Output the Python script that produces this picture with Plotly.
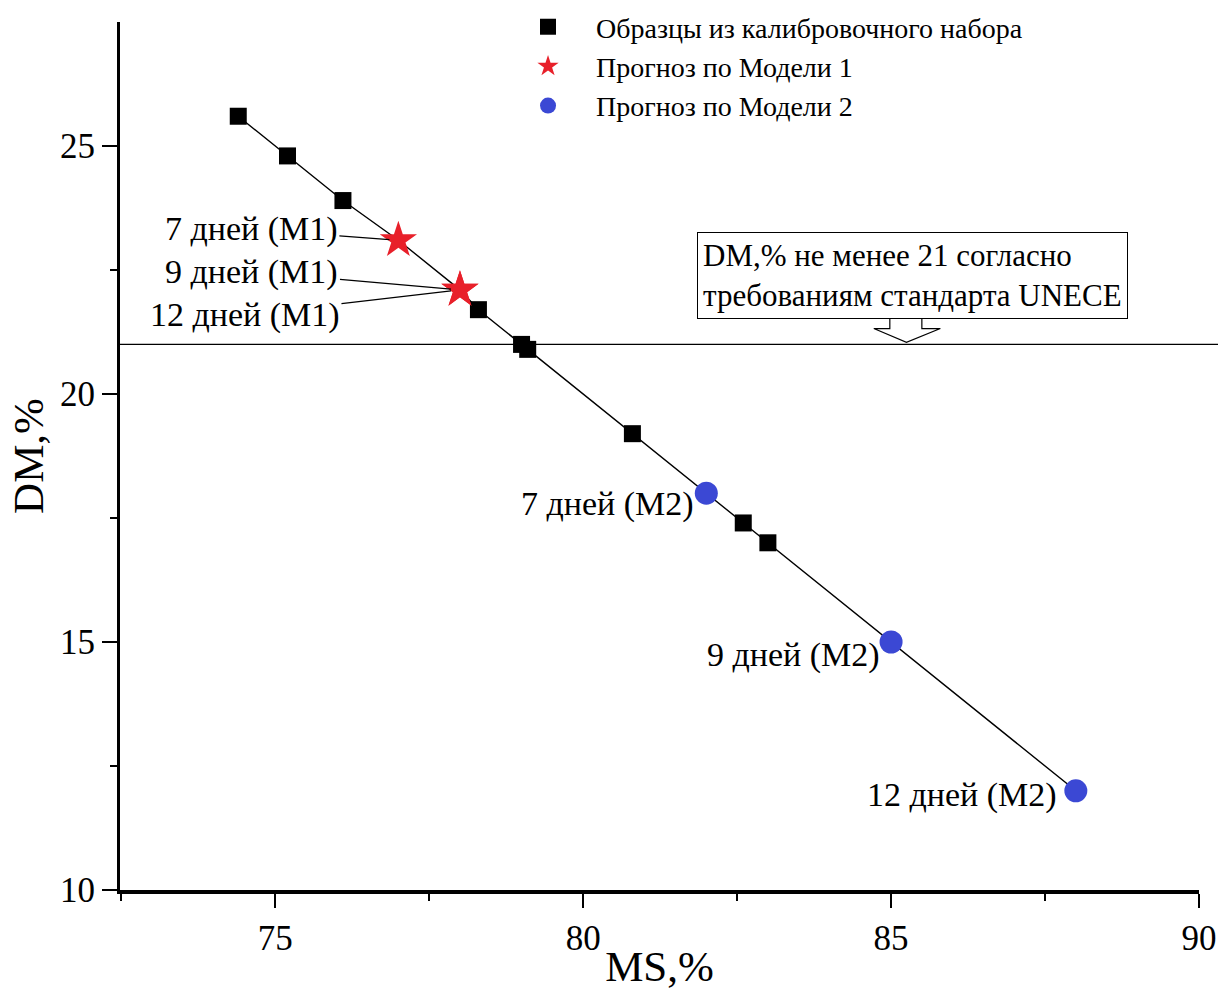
import plotly.graph_objects as go

# Calibration set samples: MS,% vs DM,%
calib_ms = [74.4, 75.2, 76.1, 78.3, 79.0, 79.1, 80.8, 82.6, 83.0]
calib_dm = [25.6, 24.8, 23.9, 21.7, 21.0, 20.9, 19.2, 17.4, 17.0]

# Model 1 forecasts (7, 9, 12 days)
m1_ms = [77.0, 78.0, 78.0]
m1_dm = [23.1, 22.1, 22.1]
m1_labels = ["7 дней (M1)", "9 дней (M1)", "12 дней (M1)"]

# Model 2 forecasts (7, 9, 12 days)
m2_ms = [82.0, 85.0, 88.0]
m2_dm = [18.0, 15.0, 12.0]
m2_labels = ["7 дней (M2)", "9 дней (M2)", "12 дней (M2)"]

dm_limit = 21.0

FONT = "Liberation Serif, Times New Roman, serif"

fig = go.Figure()

# connecting line through all points ordered by MS
pts = sorted(zip(calib_ms + m1_ms + m2_ms, calib_dm + m1_dm + m2_dm))
fig.add_trace(go.Scatter(
    x=[p[0] for p in pts], y=[p[1] for p in pts],
    mode="lines", line=dict(color="black", width=1.4),
    showlegend=False, hoverinfo="skip"))

fig.add_trace(go.Scatter(
    x=calib_ms, y=calib_dm, mode="markers",
    name="Образцы из калибровочного набора",
    marker=dict(symbol="square", size=17, color="black")))

fig.add_trace(go.Scatter(
    x=m1_ms, y=m1_dm, mode="markers",
    name="Прогноз по Модели 1",
    marker=dict(symbol="star", size=28, color="#e8202a")))

fig.add_trace(go.Scatter(
    x=m2_ms, y=m2_dm, mode="markers",
    name="Прогноз по Модели 2",
    marker=dict(symbol="circle", size=23, color="#3b48d4")))

annotations = []
# Model 1 labels with leader lines
m1_offsets = [(-147, -11), (-208, -18), (-215, 25)]
for x, y, t, (ax, ay) in zip(m1_ms, m1_dm, m1_labels, m1_offsets):
    annotations.append(dict(
        x=x, y=y, text=t, showarrow=True, arrowhead=0, arrowwidth=1.2,
        arrowcolor="black", ax=ax, ay=ay, standoff=9,
        font=dict(family=FONT, size=34, color="black")))

# Model 2 labels beside the points
m2_shifts = [(-10, -11), (-9, -13), (-17, -4)]
for x, y, t, (xs, ys) in zip(m2_ms, m2_dm, m2_labels, m2_shifts):
    annotations.append(dict(
        x=x, y=y, text=t, showarrow=False, xanchor="right", yanchor="middle",
        xshift=xs, yshift=ys,
        font=dict(family=FONT, size=34, color="black")))

# requirement note in a box
annotations.append(dict(
    x=81.85, y=22.39, xref="x", yref="y", xanchor="left", yanchor="middle",
    text="DM,% не менее 21 согласно<br>требованиям стандарта UNECE",
    showarrow=False, align="left", bgcolor="white",
    bordercolor="black", borderwidth=1, borderpad=5,
    font=dict(family=FONT, size=31, color="black")))

shapes = [
    # threshold line
    dict(type="line", xref="paper", yref="y", x0=0, x1=1.03, y0=dm_limit, y1=dm_limit,
         line=dict(color="black", width=1.2), layer="below"),
    # hollow arrow pointing down to the threshold
    dict(type="path", xref="x", yref="y",
         path=("M 84.98 21.53 L 84.98 21.32 L 84.72 21.32 L 85.25 21.04 "
               "L 85.80 21.32 L 85.50 21.32 L 85.50 21.53 Z"),
         line=dict(color="black", width=1.2), fillcolor="white"),
]

fig.update_layout(
    width=1218, height=990,
    margin=dict(l=120, r=19, t=22, b=100, autoexpand=False),
    paper_bgcolor="white", plot_bgcolor="white",
    font=dict(family=FONT, color="black"),
    annotations=annotations, shapes=shapes,
    legend=dict(x=0.3522, y=1.023, xanchor="left", yanchor="top",
                bgcolor="rgba(0,0,0,0)", font=dict(family=FONT, size=28),
                itemsizing="trace", itemwidth=86, tracegroupgap=0),
)

fig.update_xaxes(
    range=[72.48, 90], tickvals=[75, 80, 85, 90], automargin=False,
    showline=True, linecolor="black", linewidth=3.5, mirror=False,
    ticks="outside", ticklen=14, tickwidth=2, tickcolor="black",
    minor=dict(tickvals=[72.5, 77.5, 82.5, 87.5], ticks="outside", ticklen=7,
               tickwidth=2, tickcolor="black"),
    showgrid=False, zeroline=False,
    tickfont=dict(family=FONT, size=35),
    title=dict(text="MS,%", font=dict(family=FONT, size=43), standoff=2))

fig.update_yaxes(
    range=[10, 27.5], tickvals=[10, 15, 20, 25], automargin=False,
    showline=True, linecolor="black", linewidth=3, mirror=False,
    ticks="outside", ticklen=15, tickwidth=2, tickcolor="black",
    minor=dict(tickvals=[12.5, 17.5, 22.5], ticks="outside", ticklen=7,
               tickwidth=2, tickcolor="black"),
    showgrid=False, zeroline=False,
    tickfont=dict(family=FONT, size=35),
    title=dict(text="DM,%", font=dict(family=FONT, size=43), standoff=3))

fig.write_html("out.html")
